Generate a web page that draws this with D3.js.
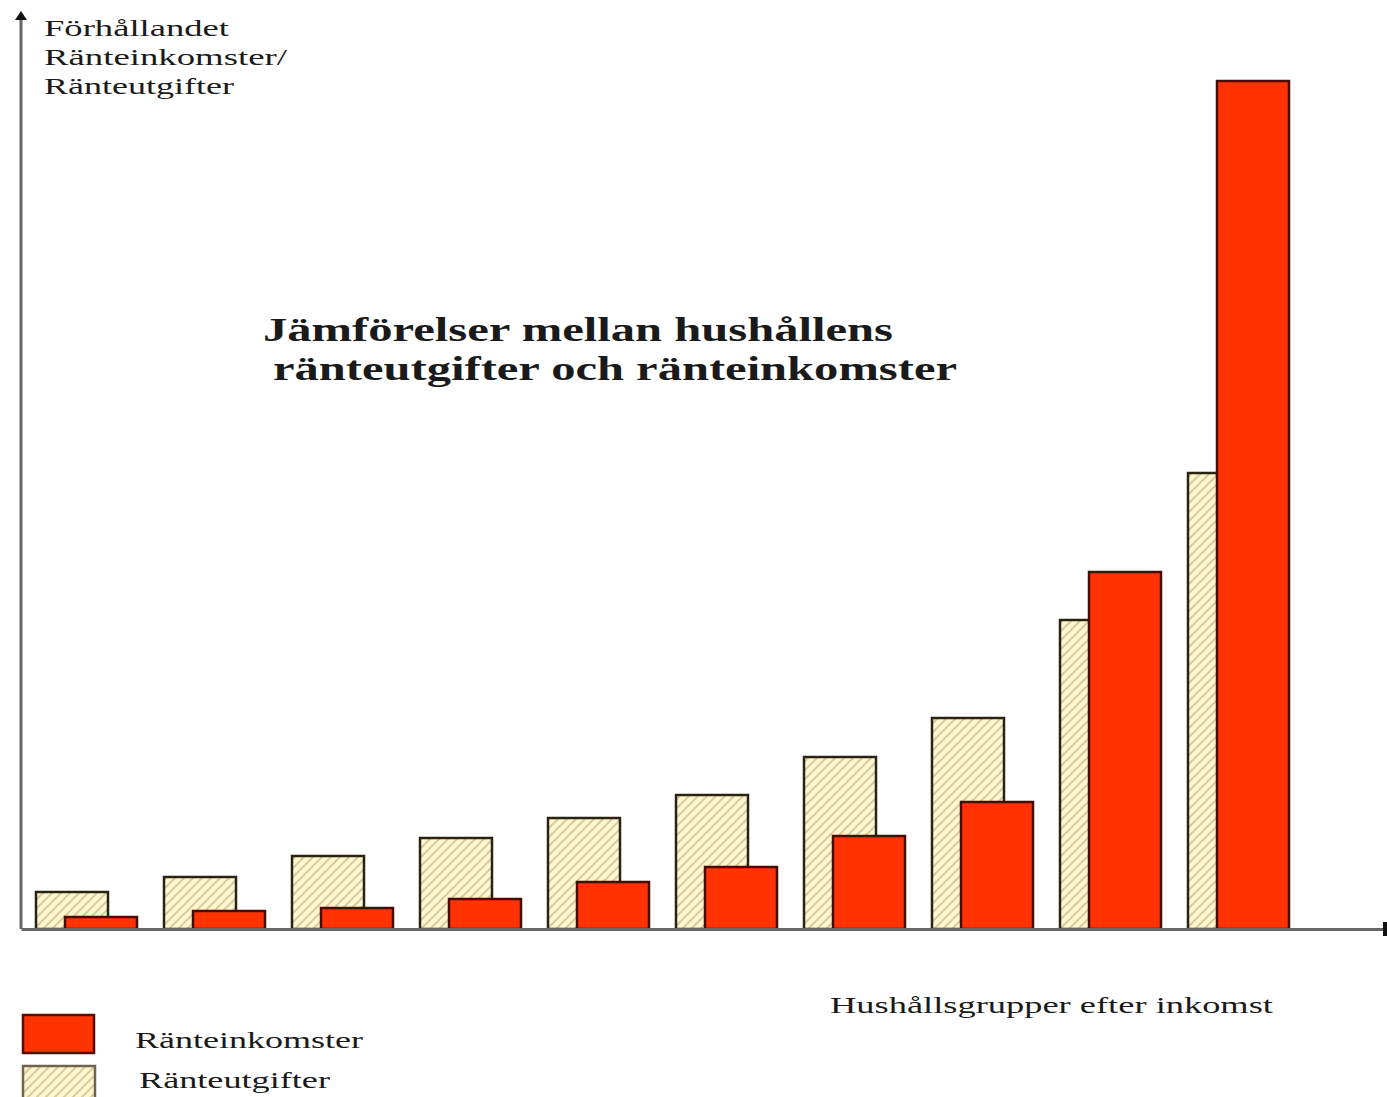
<!DOCTYPE html>
<html>
<head>
<meta charset="utf-8">
<script src="https://cdn.jsdelivr.net/npm/d3@7"></script>
<style>
  body { margin: 0; background: #fff; }
  svg { display: block; }
  text { font-family: "Liberation Serif", "DejaVu Serif", serif; fill: #1a1a1a; }
</style>
</head>
<body>
<script>
// data
const groups = ["1", "2", "3", "4", "5", "6", "7", "8", "9", "10"]
const utgifter = [3.7, 5.2, 7.3, 9.1, 11.1, 13.4, 17.2, 21.1, 30.9, 45.6]   // Ränteutgifter (hatched)
const inkomster = [1.2, 1.8, 2.1, 3.0, 4.7, 6.2, 9.3, 12.7, 35.7, 84.8]    // Ränteinkomster (red)
const yLabel = ["Förhållandet", "Ränteinkomster/", "Ränteutgifter"]
const titleLines = ["Jämförelser mellan hushållens", "ränteutgifter och ränteinkomster"]
const xLabel = "Hushållsgrupper efter inkomst"
const legendLabels = ["Ränteinkomster", "Ränteutgifter"]

const w = 1387
const h = 1097
const originX = 21
const baseY = 929

const svg = d3.select("body")
  .append("svg")
  .attr("width", w)
  .attr("height", h)

// hatch pattern
const defs = svg.append("defs")
const pat = defs.append("pattern")
  .attr("id", "hatch")
  .attr("patternUnits", "userSpaceOnUse")
  .attr("width", 9)
  .attr("height", 9)
pat.append("rect").attr("width", 9).attr("height", 9).attr("fill", "#fef7d2")
pat.append("path")
  .attr("d", "M-2,2 l4,-4 M0,9 l9,-9 M7,11 l4,-4")
  .attr("stroke", "#dccb98")
  .attr("stroke-width", 2)

// scales
const xScale = d3.scaleBand()
  .domain(groups)
  .range([36, 36 + 128 * 10])
  .paddingInner(0)

const yScale = d3.scaleLinear()
  .domain([0, 90])
  .range([baseY, baseY - 900])

const barW = 72
const redOffset = 29

// bars: hatched first, red on top
svg.selectAll("rect.utg")
  .data(utgifter)
  .enter()
  .append("rect")
  .attr("class", "utg")
  .attr("x", (d, i) => xScale(groups[i]))
  .attr("y", d => yScale(d))
  .attr("width", barW)
  .attr("height", d => baseY - yScale(d))
  .attr("fill", "url(#hatch)")
  .attr("stroke", "#2b2312")
  .attr("stroke-width", 2.5)

svg.selectAll("rect.ink")
  .data(inkomster)
  .enter()
  .append("rect")
  .attr("class", "ink")
  .attr("x", (d, i) => xScale(groups[i]) + redOffset)
  .attr("y", d => yScale(d))
  .attr("width", barW)
  .attr("height", d => baseY - yScale(d))
  .attr("fill", "#ff3300")
  .attr("stroke", "#4a0a00")
  .attr("stroke-width", 2.5)

// axes
const yAxis = d3.axisLeft(yScale).tickValues([]).tickSizeOuter(0)
const yG = svg.append("g")
  .attr("transform", "translate(" + originX + ",0)")
  .call(yAxis)
yG.select(".domain").attr("stroke", "#666").attr("stroke-width", 3)
  .attr("d", "M0," + baseY + "V18")

const xLin = d3.scaleLinear().domain([0, 1]).range([originX, 1385])
const xAxis = d3.axisBottom(xLin).tickValues([]).tickSizeOuter(0)
const xG = svg.append("g")
  .attr("transform", "translate(0," + baseY + ")")
  .call(xAxis)
xG.select(".domain").attr("stroke", "#666").attr("stroke-width", 3)

// arrow head and end mark
svg.append("path")
  .attr("d", "M" + originX + ",11 l-6,9 h12 z")
  .attr("fill", "#111")
svg.append("line")
  .attr("x1", 1385).attr("x2", 1385)
  .attr("y1", baseY - 7).attr("y2", baseY + 7)
  .attr("stroke", "#111").attr("stroke-width", 4)

// y label
const yLabLens = [185, 243, 190]
svg.selectAll("text.ylab")
  .data(yLabel)
  .enter()
  .append("text")
  .attr("class", "ylab")
  .attr("x", 44)
  .attr("y", (d, i) => 36 + i * 29)
  .attr("font-size", 23)
  .attr("textLength", (d, i) => yLabLens[i])
  .attr("lengthAdjust", "spacingAndGlyphs")
  .text(d => d)

// title
const titleX = [263, 273]
const titleLens = [630, 684]
svg.selectAll("text.title")
  .data(titleLines)
  .enter()
  .append("text")
  .attr("class", "title")
  .attr("x", (d, i) => titleX[i])
  .attr("y", (d, i) => 341 + i * 39)
  .attr("font-size", 34)
  .attr("font-weight", "bold")
  .attr("textLength", (d, i) => titleLens[i])
  .attr("lengthAdjust", "spacingAndGlyphs")
  .text(d => d)

// x label
svg.append("text")
  .attr("x", 830)
  .attr("y", 1013)
  .attr("font-size", 23)
  .attr("textLength", 443)
  .attr("lengthAdjust", "spacingAndGlyphs")
  .text(xLabel)

// legend
svg.append("rect")
  .attr("x", 23).attr("y", 1015)
  .attr("width", 71).attr("height", 38)
  .attr("fill", "#ff3300")
  .attr("stroke", "#5a0c00")
  .attr("stroke-width", 2.5)
svg.append("rect")
  .attr("x", 23).attr("y", 1066)
  .attr("width", 72).attr("height", 40)
  .attr("fill", "url(#hatch)")
  .attr("stroke", "#6e6450")
  .attr("stroke-width", 2.5)

const legX = [135, 139]
const legLens = [228, 191]
svg.selectAll("text.leg")
  .data(legendLabels)
  .enter()
  .append("text")
  .attr("class", "leg")
  .attr("x", (d, i) => legX[i])
  .attr("y", (d, i) => 1048 + i * 40)
  .attr("font-size", 23)
  .attr("textLength", (d, i) => legLens[i])
  .attr("lengthAdjust", "spacingAndGlyphs")
  .text(d => d)
</script>
</body>
</html>
